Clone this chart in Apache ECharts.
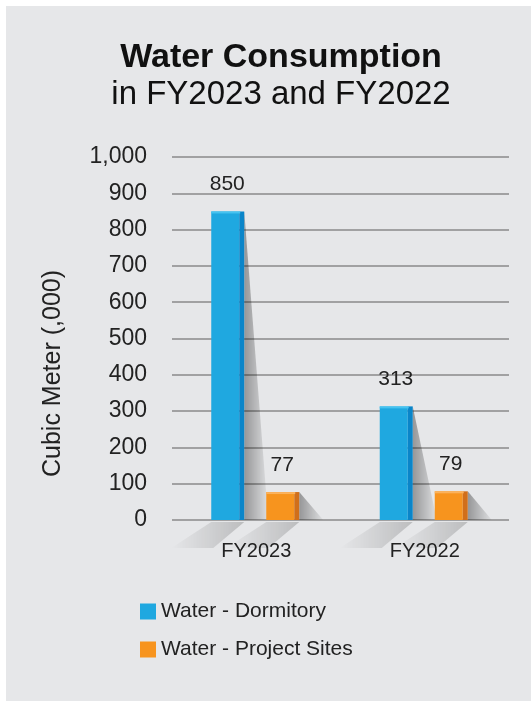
<!DOCTYPE html>
<html>
<head>
<meta charset="utf-8">
<script src="https://cdn.jsdelivr.net/npm/echarts@6/dist/echarts.min.js"></script>
<style>
  html, body { margin: 0; padding: 0; background: #fff; }
  #main { position: absolute; left: 6px; top: 6px; width: 525px; height: 695px; background: #e6e7e9; }
</style>
</head>
<body>
<div id="main"></div>
<script>
// chart data
var categories = ['FY2023', 'FY2022'];
var dormitory = [850, 313];
var projectSites = [77, 79];
var seriesNames = ['Water - Dormitory', 'Water - Project Sites'];

var FONT = '"Liberation Sans", Arial, sans-serif';

// draws one "3d" bar: floor shadow, back shadow, front face, side face, top edge, value label
function barRenderer(offset, front, side, topCol) {
  return function (params, api) {
    var c = api.value(0), v = api.value(1);
    var p = api.coord([c, v]);
    var b = api.coord([c, 0]);
    var w = 28, sw = 5;
    var x = p[0] + offset;
    var h = b[1] - p[1];
    return {
      type: 'group',
      children: [
        {
          type: 'polygon',
          shape: { points: [[x, b[1] + 2], [x + w + sw, b[1] + 2], [x + 2, b[1] + 28], [x - 40, b[1] + 28]] },
          style: { fill: new echarts.graphic.LinearGradient(1, 0, 0, 0, [
            { offset: 0, color: 'rgba(0,0,0,0.18)' },
            { offset: 1, color: 'rgba(0,0,0,0)' }
          ]) }
        },
        {
          type: 'polygon',
          shape: { points: [[x + w + sw, p[1]], [x + w + sw + 24, b[1]], [x + w + sw, b[1]]] },
          style: { fill: new echarts.graphic.LinearGradient(0, 0, 1, 0, [
            { offset: 0, color: 'rgba(0,0,0,0.35)' },
            { offset: 1, color: 'rgba(0,0,0,0.03)' }
          ]) }
        },
        { type: 'rect', shape: { x: x, y: p[1], width: w, height: h }, style: { fill: front } },
        { type: 'rect', shape: { x: x + w, y: p[1], width: sw, height: h }, style: { fill: side } },
        { type: 'rect', shape: { x: x, y: p[1], width: w + 1, height: 2 }, style: { fill: topCol } },
        {
          type: 'text',
          style: {
            x: x + w / 2 + 2, y: p[1] - 27, text: String(v),
            fill: '#222', font: '21px ' + FONT,
            align: 'center', verticalAlign: 'middle'
          }
        }
      ]
    };
  };
}

function toPairs(arr) {
  return arr.map(function (v, i) { return [i, v]; });
}

var myChart = echarts.init(document.getElementById('main'));

var option = {
  animation: false,
  title: {
    text: 'Water Consumption',
    subtext: 'in FY2023 and FY2022',
    left: 270,
    textAlign: 'center',
    top: 30,
    itemGap: 3,
    textStyle: { fontFamily: FONT, fontSize: 34, fontWeight: 'bold', color: '#111' },
    subtextStyle: { fontFamily: FONT, fontSize: 33, color: '#111' }
  },
  legend: {
    orient: 'vertical',
    left: 129,
    top: 590,
    itemWidth: 16,
    itemHeight: 16,
    itemGap: 17,
    icon: 'rect',
    textStyle: { fontFamily: FONT, fontSize: 21, color: '#222' },
    data: seriesNames
  },
  grid: { left: 166, right: 22, top: 151, bottom: 181 },
  xAxis: {
    type: 'category',
    data: categories,
    axisLine: { show: false },
    axisTick: { show: false },
    axisLabel: { fontFamily: FONT, fontSize: 20, color: '#222', margin: 21 }
  },
  yAxis: {
    type: 'value',
    min: 0,
    max: 1000,
    interval: 100,
    name: 'Cubic Meter (,000)',
    nameLocation: 'middle',
    nameRotate: 90,
    nameGap: 106,
    nameTextStyle: { fontFamily: FONT, fontSize: 25, color: '#222', padding: [0, 70, 0, 0] },
    axisLine: { show: false },
    axisTick: { show: false },
    axisLabel: {
      fontFamily: FONT, fontSize: 23, color: '#222', margin: 25,
      formatter: function (v) { return v.toLocaleString('en-US'); }
    },
    splitLine: { lineStyle: { color: '#8a8a8a', width: 1.5 } }
  },
  series: [
    {
      name: seriesNames[0],
      type: 'custom',
      clip: false,
      itemStyle: { color: '#1fa8e0' },
      renderItem: barRenderer(-45, '#1fa8e0', '#0a85c9', '#46c3f0'),
      encode: { x: 0, y: 1 },
      data: toPairs(dormitory)
    },
    {
      name: seriesNames[1],
      type: 'custom',
      clip: false,
      itemStyle: { color: '#f7941e' },
      renderItem: barRenderer(10, '#f7941e', '#d16f1a', '#fbb25c'),
      encode: { x: 0, y: 1 },
      data: toPairs(projectSites)
    }
  ]
};

myChart.setOption(option);
</script>
</body>
</html>
